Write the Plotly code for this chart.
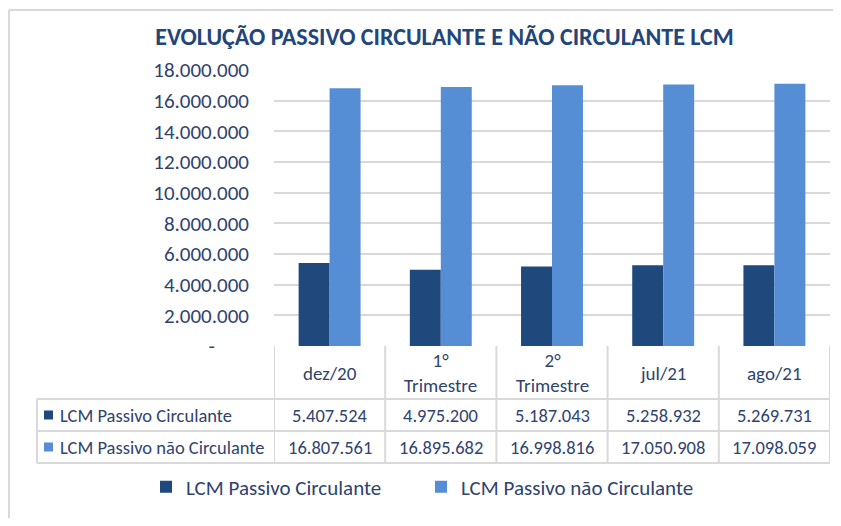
import plotly.graph_objects as go

# ---- data ----
categories = ["dez/20", "1° Trimestre", "2° Trimestre", "jul/21", "ago/21"]
header_labels = ["dez/20", "1°<br>Trimestre", "2°<br>Trimestre", "jul/21", "ago/21"]
series_names = ["LCM Passivo Circulante", "LCM Passivo não Circulante"]
circulante = [5407524, 4975200, 5187043, 5258932, 5269731]
nao_circulante = [16807561, 16895682, 16998816, 17050908, 17098059]
y_tickvals = [0, 2000000, 4000000, 6000000, 8000000, 10000000,
              12000000, 14000000, 16000000, 18000000]
title_text = "EVOLUÇÃO PASSIVO CIRCULANTE E NÃO CIRCULANTE LCM"

# ---- style ----
OFF = 8                      # page body margin
W, H = 841 - OFF, 526 - 2 * OFF
FONT = "Carlito, Calibri, Lato, sans-serif"
C_DARK = "#1F497D"
C_LIGHT = "#558ED5"
TXT = "#2F436E"
GRID = "#D9D9D9"


def fmt(v):
    return f"{v:,}".replace(",", ".")


def px(x):
    return (x - OFF) / W


def py(y):
    return 1 - (y - OFF) / H


y_ticktext = [fmt(v) if v else "-\u2007\u2007\u2007" for v in y_tickvals]

fig = go.Figure()
fig.add_trace(go.Bar(x=categories, y=circulante, name=series_names[0],
                     legend="legend",
                     marker=dict(color=C_DARK, line=dict(width=0))))
fig.add_trace(go.Bar(x=categories, y=nao_circulante, name=series_names[1],
                     legend="legend2",
                     marker=dict(color=C_LIGHT, line=dict(width=0))))

x_left, x_right = 274, 830
y_top, y_zero = 70, 346
legend_style = dict(orientation="h", y=py(487), xanchor="left", yanchor="middle",
                    font=dict(size=21, color=TXT), bgcolor="rgba(0,0,0,0)",
                    itemclick=False, itemdoubleclick=False)
fig.update_layout(
    width=W, height=H,
    margin=dict(l=0, r=0, t=0, b=0, autoexpand=False),
    paper_bgcolor="white", plot_bgcolor="white",
    font=dict(family=FONT, color=TXT),
    barmode="group", bargap=0.443, bargroupgap=0,
    title=dict(text=title_text, x=px(444.5), y=py(37), xref="paper", yref="paper",
               xanchor="center", yanchor="middle",
               font=dict(family=FONT, size=24, color="#23467A", weight="bold")),
    xaxis=dict(domain=[px(x_left), px(x_right)], range=[-0.5, 4.5],
               showticklabels=False, showgrid=False, zeroline=False,
               showline=False, ticks=""),
    yaxis=dict(domain=[py(y_zero), py(y_top)], range=[0, 18000000],
               tickvals=y_tickvals, ticktext=y_ticktext,
               tickfont=dict(size=21, color=TXT),
               showgrid=True, gridcolor=GRID, gridwidth=2,
               zeroline=False, showline=False, ticks="",
               ticklabelstandoff=24),
    legend=dict(x=px(146), **legend_style),
    legend2=dict(x=px(421), **legend_style),
    showlegend=True,
)

shapes = []
line = dict(color=GRID, width=2)
# outer chart border (top and left edges; the rest lies outside the picture)
shapes.append(dict(type="line", xref="paper", yref="paper",
                   x0=px(9), x1=1, y0=py(10), y1=py(10), line=line))
shapes.append(dict(type="line", xref="paper", yref="paper",
                   x0=px(9), x1=px(9), y0=py(10), y1=0, line=line))
# table vertical lines at category boundaries
for i in range(len(categories) + 1):
    shapes.append(dict(type="line", xref="x", yref="paper",
                       x0=i - 0.5, x1=i - 0.5, y0=py(y_zero), y1=py(463),
                       line=line))
# left edge of table label column
shapes.append(dict(type="line", xref="paper", yref="paper",
                   x0=px(37), x1=px(37), y0=py(399), y1=py(463), line=line))
# horizontal lines
for yy in (399, 431, 463):
    shapes.append(dict(type="line", xref="paper", yref="paper",
                       x0=px(37), x1=px(x_right), y0=py(yy), y1=py(yy),
                       line=line))
# row key squares
for yc, col in ((415, C_DARK), (447, C_LIGHT)):
    shapes.append(dict(type="rect", xref="paper", yref="paper",
                       x0=px(44), x1=px(53), y0=py(yc - 4.5), y1=py(yc + 4.5),
                       fillcolor=col, line=dict(width=0)))

annotations = []
for i, lab in enumerate(header_labels):
    annotations.append(dict(x=categories[i], y=py(373), xref="x", yref="paper",
                            text=lab, showarrow=False, xanchor="center",
                            yanchor="middle", font=dict(size=19, color=TXT)))
for row_vals, yc in ((circulante, 415), (nao_circulante, 447)):
    for i, v in enumerate(row_vals):
        annotations.append(dict(x=categories[i], y=py(yc), xref="x", yref="paper",
                                text=fmt(v), showarrow=False, xanchor="center",
                                yanchor="middle", font=dict(size=18.5, color=TXT)))
for name, yc in zip(series_names, (415, 447)):
    annotations.append(dict(x=px(58), y=py(yc), xref="paper", yref="paper",
                            text=name, showarrow=False, xanchor="left",
                            yanchor="middle", font=dict(size=18.5, color=TXT)))

fig.update_layout(shapes=shapes, annotations=annotations)
fig.write_html("out.html")
